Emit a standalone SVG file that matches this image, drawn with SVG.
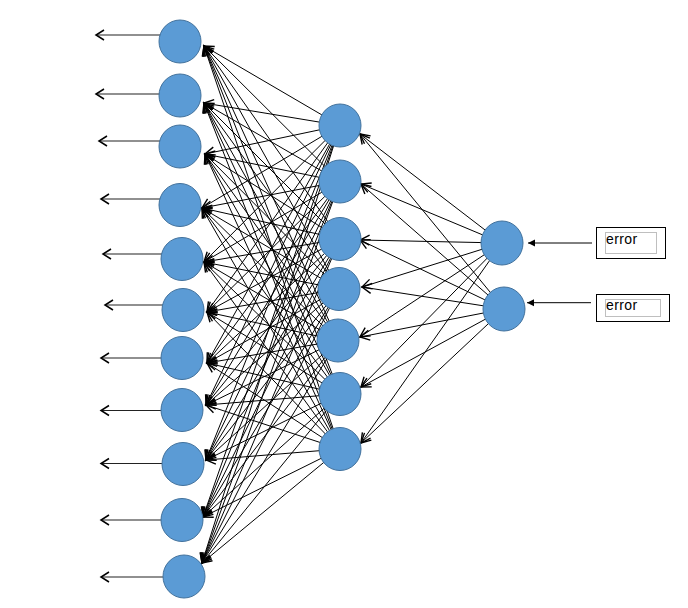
<svg xmlns="http://www.w3.org/2000/svg" width="688" height="608" viewBox="0 0 688 608">
<style>
.c{stroke:#000;stroke-width:1;fill:none;marker-end:url(#open)}
.o{stroke:#222;stroke-width:1.2;fill:none;marker-end:url(#out)}
.e{stroke:#000;stroke-width:1;fill:none;marker-end:url(#fill)}
.n{fill:#5B9BD5;stroke:#41719C;stroke-width:1}
.box{fill:#fff;stroke:#000;stroke-width:1}
.inner{fill:#fff;stroke:#BFBFBF;stroke-width:1}
.t{font-family:"Liberation Sans",Arial,sans-serif;font-size:14px;fill:#000;letter-spacing:0.4px}
</style>
<defs>
<marker id="open" markerUnits="userSpaceOnUse" markerWidth="16" markerHeight="16" viewBox="-12 -8 16 16" refX="0" refY="0" orient="auto">
<path d="M-9.5,-5 L0,0 L-9.5,5" fill="none" stroke="#000" stroke-width="1.4"/>
</marker>
<marker id="out" markerUnits="userSpaceOnUse" markerWidth="14" markerHeight="14" viewBox="-11 -7 14 14" refX="0" refY="0" orient="auto">
<path d="M-8,-5 L0,0 L-8,5" fill="none" stroke="#000" stroke-width="1.5"/>
</marker>
<marker id="fill" markerUnits="userSpaceOnUse" markerWidth="10" markerHeight="10" viewBox="-8 -5 10 10" refX="0" refY="0" orient="auto">
<path d="M-7,-3.5 L0,0 L-7,3.5 Z" fill="#000"/>
</marker>
</defs>
<g id="connectors">
<line class="o" x1="180" y1="35" x2="96" y2="35"/>
<line class="o" x1="180" y1="94" x2="96" y2="94"/>
<line class="o" x1="180" y1="141" x2="99" y2="141"/>
<line class="o" x1="180" y1="199" x2="101" y2="199"/>
<line class="o" x1="182" y1="254" x2="103" y2="254"/>
<line class="o" x1="183" y1="305" x2="105" y2="305"/>
<line class="o" x1="182" y1="358" x2="101" y2="358"/>
<line class="o" x1="182" y1="410.5" x2="101" y2="410.5"/>
<line class="o" x1="183" y1="463.5" x2="101" y2="463.5"/>
<line class="o" x1="182" y1="520" x2="101" y2="520"/>
<line class="o" x1="184" y1="577" x2="101" y2="577"/>
<line class="e" x1="592" y1="243" x2="528" y2="243"/>
<line class="e" x1="591" y1="302.7" x2="527" y2="302.7"/>
<line class="c" x1="502" y1="243" x2="360" y2="134"/>
<line class="c" x1="502" y1="243" x2="361" y2="184"/>
<line class="c" x1="502" y1="243" x2="360" y2="240"/>
<line class="c" x1="502" y1="243" x2="362" y2="287"/>
<line class="c" x1="502" y1="243" x2="360" y2="337"/>
<line class="c" x1="502" y1="243" x2="361" y2="387"/>
<line class="c" x1="502" y1="243" x2="361" y2="443"/>
<line class="c" x1="504" y1="309" x2="360" y2="134"/>
<line class="c" x1="504" y1="309" x2="361" y2="184"/>
<line class="c" x1="504" y1="309" x2="360" y2="240"/>
<line class="c" x1="504" y1="309" x2="362" y2="287"/>
<line class="c" x1="504" y1="309" x2="360" y2="337"/>
<line class="c" x1="504" y1="309" x2="361" y2="387"/>
<line class="c" x1="504" y1="309" x2="361" y2="443"/>
<line class="c" x1="340" y1="125.5" x2="204" y2="46"/>
<line class="c" x1="340" y1="125.5" x2="204" y2="103"/>
<line class="c" x1="340" y1="125.5" x2="205" y2="154"/>
<line class="c" x1="340" y1="125.5" x2="202" y2="208"/>
<line class="c" x1="340" y1="125.5" x2="204" y2="262"/>
<line class="c" x1="340" y1="125.5" x2="207" y2="312"/>
<line class="c" x1="340" y1="125.5" x2="207" y2="363"/>
<line class="c" x1="340" y1="125.5" x2="206" y2="405"/>
<line class="c" x1="340" y1="125.5" x2="206" y2="460"/>
<line class="c" x1="340" y1="125.5" x2="203" y2="517"/>
<line class="c" x1="340" y1="125.5" x2="202" y2="563"/>
<line class="c" x1="340" y1="181.5" x2="204" y2="46"/>
<line class="c" x1="340" y1="181.5" x2="204" y2="103"/>
<line class="c" x1="340" y1="181.5" x2="205" y2="154"/>
<line class="c" x1="340" y1="181.5" x2="202" y2="208"/>
<line class="c" x1="340" y1="181.5" x2="204" y2="262"/>
<line class="c" x1="340" y1="181.5" x2="207" y2="312"/>
<line class="c" x1="340" y1="181.5" x2="207" y2="363"/>
<line class="c" x1="340" y1="181.5" x2="206" y2="405"/>
<line class="c" x1="340" y1="181.5" x2="206" y2="460"/>
<line class="c" x1="340" y1="181.5" x2="203" y2="517"/>
<line class="c" x1="340" y1="181.5" x2="202" y2="563"/>
<line class="c" x1="340" y1="239" x2="204" y2="46"/>
<line class="c" x1="340" y1="239" x2="204" y2="103"/>
<line class="c" x1="340" y1="239" x2="205" y2="154"/>
<line class="c" x1="340" y1="239" x2="202" y2="208"/>
<line class="c" x1="340" y1="239" x2="204" y2="262"/>
<line class="c" x1="340" y1="239" x2="207" y2="312"/>
<line class="c" x1="340" y1="239" x2="207" y2="363"/>
<line class="c" x1="340" y1="239" x2="206" y2="405"/>
<line class="c" x1="340" y1="239" x2="206" y2="460"/>
<line class="c" x1="340" y1="239" x2="203" y2="517"/>
<line class="c" x1="340" y1="239" x2="202" y2="563"/>
<line class="c" x1="339" y1="289" x2="204" y2="46"/>
<line class="c" x1="339" y1="289" x2="204" y2="103"/>
<line class="c" x1="339" y1="289" x2="205" y2="154"/>
<line class="c" x1="339" y1="289" x2="202" y2="208"/>
<line class="c" x1="339" y1="289" x2="204" y2="262"/>
<line class="c" x1="339" y1="289" x2="207" y2="312"/>
<line class="c" x1="339" y1="289" x2="207" y2="363"/>
<line class="c" x1="339" y1="289" x2="206" y2="405"/>
<line class="c" x1="339" y1="289" x2="206" y2="460"/>
<line class="c" x1="339" y1="289" x2="203" y2="517"/>
<line class="c" x1="339" y1="289" x2="202" y2="563"/>
<line class="c" x1="338" y1="340.5" x2="204" y2="46"/>
<line class="c" x1="338" y1="340.5" x2="204" y2="103"/>
<line class="c" x1="338" y1="340.5" x2="205" y2="154"/>
<line class="c" x1="338" y1="340.5" x2="202" y2="208"/>
<line class="c" x1="338" y1="340.5" x2="204" y2="262"/>
<line class="c" x1="338" y1="340.5" x2="207" y2="312"/>
<line class="c" x1="338" y1="340.5" x2="207" y2="363"/>
<line class="c" x1="338" y1="340.5" x2="206" y2="405"/>
<line class="c" x1="338" y1="340.5" x2="206" y2="460"/>
<line class="c" x1="338" y1="340.5" x2="203" y2="517"/>
<line class="c" x1="338" y1="340.5" x2="202" y2="563"/>
<line class="c" x1="340" y1="394" x2="204" y2="46"/>
<line class="c" x1="340" y1="394" x2="204" y2="103"/>
<line class="c" x1="340" y1="394" x2="205" y2="154"/>
<line class="c" x1="340" y1="394" x2="202" y2="208"/>
<line class="c" x1="340" y1="394" x2="204" y2="262"/>
<line class="c" x1="340" y1="394" x2="207" y2="312"/>
<line class="c" x1="340" y1="394" x2="207" y2="363"/>
<line class="c" x1="340" y1="394" x2="206" y2="405"/>
<line class="c" x1="340" y1="394" x2="206" y2="460"/>
<line class="c" x1="340" y1="394" x2="203" y2="517"/>
<line class="c" x1="340" y1="394" x2="202" y2="563"/>
<line class="c" x1="340" y1="449" x2="204" y2="46"/>
<line class="c" x1="340" y1="449" x2="204" y2="103"/>
<line class="c" x1="340" y1="449" x2="205" y2="154"/>
<line class="c" x1="340" y1="449" x2="202" y2="208"/>
<line class="c" x1="340" y1="449" x2="204" y2="262"/>
<line class="c" x1="340" y1="449" x2="207" y2="312"/>
<line class="c" x1="340" y1="449" x2="207" y2="363"/>
<line class="c" x1="340" y1="449" x2="206" y2="405"/>
<line class="c" x1="340" y1="449" x2="206" y2="460"/>
<line class="c" x1="340" y1="449" x2="203" y2="517"/>
<line class="c" x1="340" y1="449" x2="202" y2="563"/>
</g>
<g id="out1"><ellipse class="n" cx="180" cy="41.5" rx="21" ry="21.5"/></g>
<g id="out2"><ellipse class="n" cx="180" cy="95.5" rx="21" ry="21.5"/></g>
<g id="out3"><ellipse class="n" cx="180" cy="146.5" rx="21" ry="21.5"/></g>
<g id="out4"><ellipse class="n" cx="180" cy="205" rx="21" ry="21.5"/></g>
<g id="out5"><ellipse class="n" cx="182" cy="259" rx="21" ry="21.5"/></g>
<g id="out6"><ellipse class="n" cx="183" cy="310" rx="21" ry="21.5"/></g>
<g id="out7"><ellipse class="n" cx="182" cy="358" rx="21" ry="21.5"/></g>
<g id="out8"><ellipse class="n" cx="182" cy="410" rx="21" ry="21.5"/></g>
<g id="out9"><ellipse class="n" cx="183" cy="464" rx="21" ry="21.5"/></g>
<g id="out10"><ellipse class="n" cx="182" cy="520" rx="21" ry="21.5"/></g>
<g id="out11"><ellipse class="n" cx="184" cy="576.5" rx="21" ry="21.5"/></g>
<g id="hid1"><ellipse class="n" cx="340" cy="125.5" rx="21" ry="21.5"/></g>
<g id="hid2"><ellipse class="n" cx="340" cy="181.5" rx="21" ry="21.5"/></g>
<g id="hid3"><ellipse class="n" cx="340" cy="239" rx="21" ry="21.5"/></g>
<g id="hid4"><ellipse class="n" cx="339" cy="289" rx="21" ry="21.5"/></g>
<g id="hid5"><ellipse class="n" cx="338" cy="340.5" rx="21" ry="21.5"/></g>
<g id="hid6"><ellipse class="n" cx="340" cy="394" rx="21" ry="21.5"/></g>
<g id="hid7"><ellipse class="n" cx="340" cy="449" rx="21" ry="21.5"/></g>
<g id="in1"><ellipse class="n" cx="502" cy="243" rx="21" ry="22"/></g>
<g id="in2"><ellipse class="n" cx="504" cy="309" rx="21" ry="22"/></g>
<g id="err1">
<rect class="box" x="596.5" y="227.5" width="69" height="31"/>
<rect class="inner" x="605.5" y="232.5" width="51" height="21"/>
<text class="t" x="606" y="243.5">error</text>
</g>
<g id="err2">
<rect class="box" x="596.5" y="294.5" width="73" height="27"/>
<rect class="inner" x="605.5" y="299.5" width="55" height="17"/>
<text class="t" x="606" y="310">error</text>
</g>
</svg>
